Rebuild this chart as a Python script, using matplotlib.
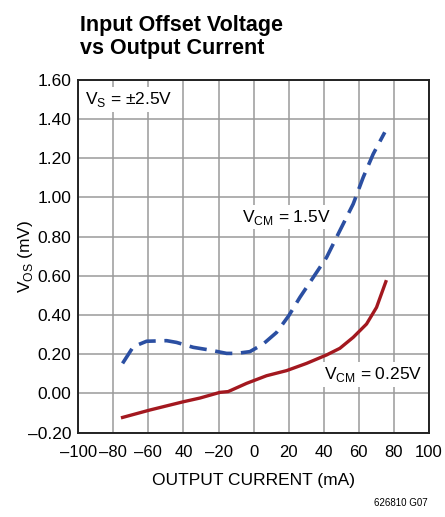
import matplotlib.pyplot as plt

# curves (mA, mV)
i_15 = [-74.7, -68.6, -61, -49.6, -43.9, -34.4, -24.9, -15.4, -9.7, -2.1, 5.5, 13.1,
        20.1, 26.4, 34, 41.6, 49.2, 56.8, 62.5, 68.2, 74.8]
vos_15 = [0.153, 0.238, 0.266, 0.269, 0.260, 0.235, 0.221, 0.204, 0.204, 0.213, 0.252,
          0.311, 0.397, 0.490, 0.592, 0.694, 0.831, 0.967, 1.103, 1.222, 1.333]

i_025 = [-74.7, -59.1, -40.1, -30.6, -19.2, -14.5, -4, 7.4, 18.8, 30.2, 41.6, 49.2,
         56.8, 64.4, 70.1, 75.4]
vos_025 = [-0.123, -0.085, -0.043, -0.024, 0.005, 0.009, 0.051, 0.090, 0.116, 0.153,
           0.196, 0.230, 0.286, 0.354, 0.439, 0.570]

x_ticks = [-100, -80, -60, -40, -20, 0, 20, 40, 60, 80, 100]
x_tick_labels = ['\u2013100', '\u201380', '\u201360', '40', '\u201320', '0', '20', '40', '60', '80', '100']
y_ticks = [-0.2, 0.0, 0.2, 0.4, 0.6, 0.8, 1.0, 1.2, 1.4, 1.6]
y_tick_labels = ['\u20130.20', '0.00', '0.20', '0.40', '0.60', '0.80', '1.00', '1.20', '1.40', '1.60']

plt.rcParams['font.family'] = ['Liberation Sans', 'DejaVu Sans']

fig = plt.figure(figsize=(4.45, 5.17), dpi=100)
ax = fig.add_axes([0.1757, 0.1634, 0.7883, 0.6819])

ax.plot(i_15, vos_15, color='#2b4fa2', lw=2.6, dashes=(4.8, 2.4), solid_capstyle='butt')
ax.plot(i_025, vos_025, color='#a3181f', lw=2.4)

ax.set_xlim(-100, 100)
ax.set_ylim(-0.2, 1.6)
ax.set_xticks(x_ticks)
ax.set_xticklabels(x_tick_labels)
ax.set_yticks(y_ticks)
ax.set_yticklabels(y_tick_labels)
ax.tick_params(axis='x', length=0, labelsize=12, pad=9)
ax.tick_params(axis='y', length=0, labelsize=12.5, pad=5)
ax.grid(True, color='#9a9a9a', lw=1.1)
ax.set_axisbelow(True)
for s in ax.spines.values():
    s.set_linewidth(1.4)
    s.set_color('#222222')

ax.set_xlabel('OUTPUT CURRENT (mA)', fontsize=12.5, labelpad=9)
ax.set_ylabel('V$_{\\mathregular{OS}}$ (mV)', fontsize=12.5, labelpad=-5)

box = dict(facecolor='white', edgecolor='none', pad=2)
ax.text(-96, 1.50, 'V$_{\\mathregular{S}}$ = \u00b12.5V', fontsize=12.5, va='center', ha='left', bbox=box)
ax.text(18.5, 0.90, 'V$_{\\mathregular{CM}}$ = 1.5V', fontsize=12.5, va='center', ha='center', bbox=box)
ax.text(68, 0.095, 'V$_{\\mathregular{CM}}$ = 0.25V', fontsize=12.5, va='center', ha='center', bbox=box)

fig.text(0.18, 0.928, 'Input Offset Voltage\nvs Output Current', fontsize=15.5, fontweight='bold',
         ha='left', va='center', linespacing=1.1)
fig.text(0.962, 0.018, '626810 G07', fontsize=7, ha='right', va='bottom')

plt.savefig('out.png', dpi=100)
